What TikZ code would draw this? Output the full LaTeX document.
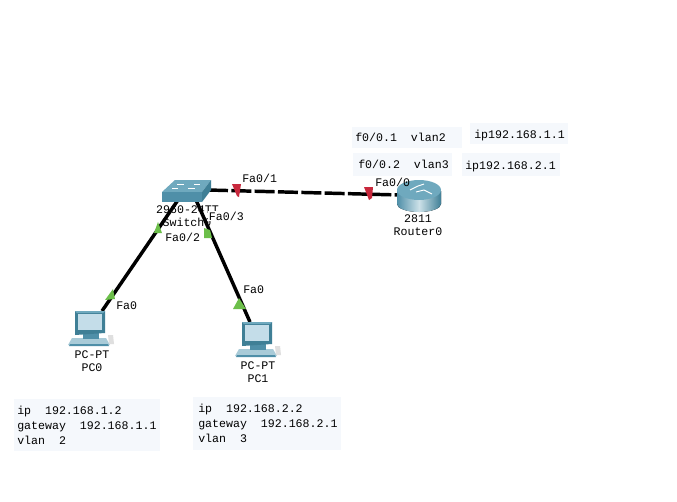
\documentclass[tikz,border=0pt]{standalone}
\usepackage{fontspec}
\setmainfont{Liberation Mono}
\definecolor{boxbg}{HTML}{F5F8FC}
\definecolor{teal1}{HTML}{4F8FA8}
\definecolor{teal2}{HTML}{3F7F96}
\definecolor{teal3}{HTML}{6FA9BE}
\definecolor{scr}{HTML}{C4DDE9}
\definecolor{linkg}{HTML}{6CBF4A}
\definecolor{linkr}{HTML}{C8283C}
\tikzset{
 x=0.75pt,y=-0.75pt,
 every node/.style={font=\fontsize{8.7pt}{10pt}\selectfont,inner sep=0pt,text=black},
 txt/.style={anchor=base west},
 ctr/.style={anchor=base},
 link/.style={line width=2.6pt,black},
 dashlink/.style={link,dash pattern=on 15pt off 2.5pt},
 gmark/.style={fill=linkg,draw=none},
 rmark/.style={fill=linkr,draw=none},
 patch/.style={fill=white,inner xsep=0.5pt,inner ysep=0.5pt},
}
\newcommand{\pcicon}[2]{%
 \begin{scope}[shift={(#1,#2)}]
  \fill[teal3!60] (-3,27) -- (31,27) -- (35,34) -- (-7,34) -- cycle;
  \fill[teal1] (-5,33) -- (33,33) -- (34,35) -- (-6,35) -- cycle;
  \fill[teal1] (8,21) rectangle (24,28);
  \fill[teal2] (0,0) -- (30,0) -- (30,22) -- (0,24) -- cycle;
  \fill[teal3] (0,0) -- (30,0) -- (28,2) -- (2,2) -- cycle;
  \fill[scr] (3,3) rectangle (27,19);
  \fill[gray!25] (33,24) -- (38,24) -- (39,33) -- (34,33) -- cycle;
 \end{scope}}
\begin{document}
\begin{tikzpicture}
\useasboundingbox (0,0) rectangle (677,501);
\fill[white] (0,0) rectangle (677,501);
\coordinate (swL) at (178,200);
\coordinate (swR) at (196,200);
\coordinate (swE) at (208,190);
\coordinate (rt) at (400,195);
\coordinate (pc0) at (102,311);
\coordinate (pc1) at (250,322);
% info boxes
\fill[boxbg] (14,399) rectangle (160,451);
\fill[boxbg] (193,397) rectangle (341,450);
\fill[boxbg] (352,127) rectangle (462,148);
\fill[boxbg] (470,123) rectangle (568,144);
\fill[boxbg] (353,153) rectangle (452,176);
\fill[boxbg] (462,153) rectangle (560,176);
% connectors
\draw[link] (swL) -- (pc0);
\draw[link] (swR) -- (pc1);
\draw[dashlink] (swE) -- (rt);
% link markers
\fill[gmark] (158,222) -- (162,233) -- (154,233) -- cycle;
\fill[gmark] (204,228) -- (210,230) -- (212,238) -- (204,238) -- cycle;
\fill[gmark] (113,289) -- (115,299) -- (105,300) -- cycle;
\fill[gmark] (239,298) -- (246,309) -- (233,309) -- cycle;
\fill[rmark] (232,184) -- (241,184) -- (239,197) -- (237,196) -- cycle;
\fill[rmark] (364,187) -- (373,187) -- (372,198) -- (369,200) -- cycle;
% switch
\fill[teal3] (162,192) -- (175,180) -- (211,180) -- (202,192) -- cycle;
\fill[teal1] (162,192) rectangle (202,202);
\fill[teal2] (202,192) -- (211,180) -- (211,190) -- (202,202) -- cycle;
\draw[white,line width=0.7pt] (177,184) -- (184,184) (194,184) -- (200,184) (172,188) -- (178,188) (188,188) -- (195,188);
% router
\fill[left color=teal1,right color=teal2,middle color=teal3!35] (397,191) -- (397,204) arc[start angle=180,end angle=0,x radius=22,y radius=8] -- (441,191) -- cycle;
\fill[teal3] (419,190) ellipse[x radius=22,y radius=10];
\draw[white,line width=0.7pt] (410,190) -- (418,186) -- (424,184) (416,192) -- (424,190) -- (432,194);
% PCs
\pcicon{75}{311}
\pcicon{242}{322}
% labels
\node[ctr] (l2960) at (187.5,213) {2960-24TT};
\node[ctr] (lsw) at (187,226) {Switch0};
\node[txt,patch] (f3) at (208,220) {Fa0/3};
\node[txt] (f2) at (165,241) {Fa0/2};
\node[txt] (f1) at (242,182) {Fa0/1};
\node[txt] (f0) at (375,186) {Fa0/0};
\node[ctr] (r1) at (418,222) {2811};
\node[ctr] (r2) at (418,235) {Router0};
\node[txt] (fa0a) at (116,309) {Fa0};
\node[txt] (fa0b) at (243,293) {Fa0};
\node[ctr] (p0a) at (92,358) {PC-PT};
\node[ctr] (p0b) at (92,371) {PC0};
\node[ctr] (p1a) at (258,369) {PC-PT};
\node[ctr] (p1b) at (258,382) {PC1};
\node[txt] (t1) at (355,141) {f0/0.1\ \ vlan2};
\node[txt] (t2) at (474,138) {ip192.168.1.1};
\node[txt] (t3) at (358,168) {f0/0.2\ \ vlan3};
\node[txt] (t4) at (465,169) {ip192.168.2.1};
\node[txt] (a1) at (17,414) {ip\ \ 192.168.1.2};
\node[txt] (a2) at (17,429) {gateway\ \ 192.168.1.1};
\node[txt] (a3) at (17,444) {vlan\ \ 2};
\node[txt] (b1) at (198,412) {ip\ \ 192.168.2.2};
\node[txt] (b2) at (198,427) {gateway\ \ 192.168.2.1};
\node[txt] (b3) at (198,442) {vlan\ \ 3};
\end{tikzpicture}
\end{document}
